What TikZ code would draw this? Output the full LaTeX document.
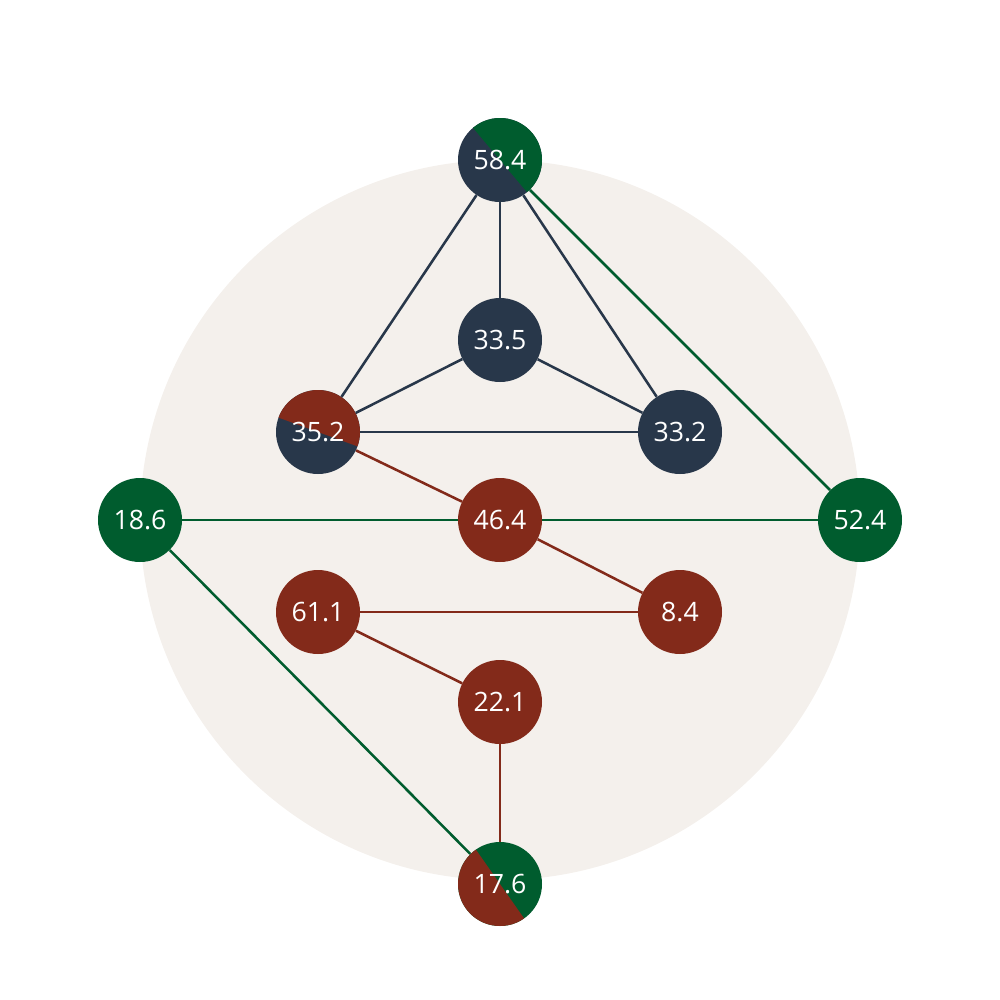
\documentclass[tikz,border=0pt]{standalone}
\usepackage{fontspec}
\setmainfont{Open Sans}
\definecolor{navy}{HTML}{28374A}
\definecolor{leaf}{HTML}{005C2E}
\definecolor{rust}{HTML}{832A1A}
\definecolor{sand}{HTML}{F4F0EC}
\tikzset{
  val/.style={circle,minimum size=63pt,inner sep=0pt,fill=#1,text=white,font=\fontsize{20}{24}\selectfont},
  half/.style args={#1 from #2}{path picture={\fill[#1] (path picture bounding box.center) ++(#2:60) arc[start angle=#2,end angle=#2-180,radius=60] -- cycle;}},
  link/.style={line width=1.9pt,draw=#1}
}
\begin{document}
\begin{tikzpicture}[x=0.75pt,y=0.75pt,yscale=-1,xscale=1]
    \useasboundingbox (0,0) rectangle (1000,1000);
    % Background disc
    \fill[sand] (500,520) circle (360);
    % Nodes
    \node[val=navy,half=leaf from 130] (t584) at (500,160) {58.4};
    \node[val=navy] (t335) at (500,340) {33.5};
    \node[val=navy,half=rust from 160] (t352) at (318,432) {35.2};
    \node[val=navy] (t332) at (680,432) {33.2};
    \node[val=leaf] (t186) at (140,520) {18.6};
    \node[val=rust] (t464) at (500,520) {46.4};
    \node[val=leaf] (t524) at (860,520) {52.4};
    \node[val=rust] (t611) at (318,612) {61.1};
    \node[val=rust] (t84) at (680,612) {8.4};
    \node[val=rust] (t221) at (500,702) {22.1};
    \node[val=leaf,half=rust from -55] (t176) at (500,884) {17.6};
    % Navy links
    \draw[link=navy] (t584) -- (t335);
    \draw[link=navy] (t584) -- (t352);
    \draw[link=navy] (t584) -- (t332);
    \draw[link=navy] (t335) -- (t352);
    \draw[link=navy] (t335) -- (t332);
    \draw[link=navy] (t352) -- (t332);
    % Green links
    \draw[link=leaf] (t584) -- (t524);
    \draw[link=leaf] (t186) -- (t464);
    \draw[link=leaf] (t464) -- (t524);
    \draw[link=leaf] (t186) -- (t176);
    % Red links
    \draw[link=rust] (t352) -- (t464);
    \draw[link=rust] (t464) -- (t84);
    \draw[link=rust] (t611) -- (t84);
    \draw[link=rust] (t611) -- (t221);
    \draw[link=rust] (t221) -- (t176);
\end{tikzpicture}
\end{document}
